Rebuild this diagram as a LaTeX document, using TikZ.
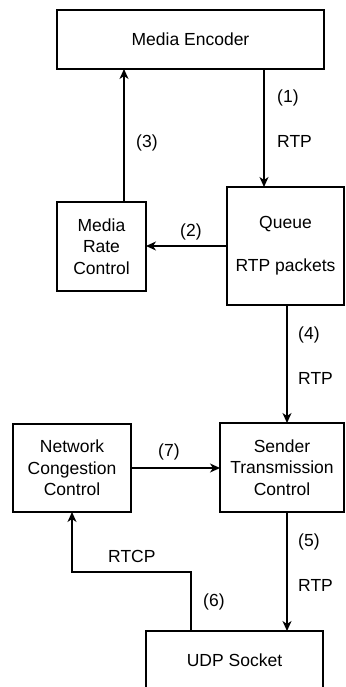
\documentclass[tikz,border=0pt]{standalone}
\usepackage{fontspec}
\setmainfont{Liberation Sans}
\usepackage{tikz}
\usetikzlibrary{arrows.meta}
\tikzset{block/.style={draw, line width=1.3pt, inner sep=0pt, outer sep=0pt, align=center, font=\fontsize{17.5}{21.5}\selectfont}}
\tikzset{lbl/.style={anchor=west, inner sep=0pt, font=\fontsize{17.5}{21.5}\selectfont}}
\tikzset{flow/.style={line width=1.3pt, -{Stealth[length=10pt,width=9pt,inset=3pt]}}}

\begin{document}
\begin{tikzpicture}[x=1pt,y=-1pt]
\useasboundingbox (0,0) rectangle (345,687);
\node[block, minimum width=267pt, minimum height=59pt] (enc) at (190.5,39.5) {Media Encoder};
\node[block, minimum width=117pt, minimum height=118pt] (q) at (285.5,246) {Queue\\[21.5pt]RTP packets};
\node[block, minimum width=89pt, minimum height=89pt] (mrc) at (101.5,246.5) {Media\\Rate\\Control};
\node[block, minimum width=118pt, minimum height=88pt] (ncc) at (72,468) {Network\\Congestion\\Control};
\node[block, minimum width=124pt, minimum height=89pt] (stc) at (282,467.5) {Sender\\Transmission\\Control};
\node[block, minimum width=177pt, minimum height=58pt] (udp) at (234.5,660) {UDP Socket};

\coordinate (c1) at (264,0);
\coordinate (c3) at (124,0);
\coordinate (c5) at (287,0);
\coordinate (c6) at (191,0);

\draw[flow] (enc.south -| c1) -- (q.north -| c1);
\draw[flow] (q.west) -- (q.west -| mrc.east);
\draw[flow] (mrc.north -| c3) -- (enc.south -| c3);
\draw[flow] (q.south -| c5) -- (stc.north -| c5);
\draw[flow] (stc.south -| c5) -- (udp.north -| c5);
\draw[flow] (udp.north -| c6) -- ++(0,-59) -| (ncc.south);
\draw[flow] (ncc.east) -- (ncc.east -| stc.west);

\node[lbl] (l1) at (277,98) {(1)};
\node[lbl] (r1) at (277,141) {RTP};
\node[lbl] (l3) at (136,143) {(3)};
\node[lbl] (l2) at (180,232) {(2)};
\node[lbl] (l4) at (298,335) {(4)};
\node[lbl] (r4) at (298,378) {RTP};
\node[lbl] (l7) at (158,452) {(7)};
\node[lbl] (l5) at (298,542) {(5)};
\node[lbl] (r5) at (298,585) {RTP};
\node[lbl] (rtcp) at (108,556) {RTCP};
\node[lbl] (l6) at (203,602) {(6)};
\end{tikzpicture}
\end{document}
